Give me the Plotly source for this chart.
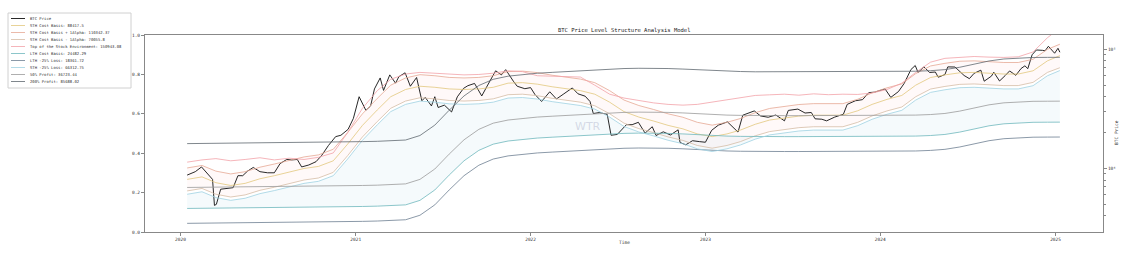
import plotly.graph_objects as go

# ---------------- data ----------------
price_dates = [
    "2020-01-15","2020-02-01","2020-02-14","2020-03-01","2020-03-08","2020-03-12","2020-03-16","2020-03-25","2020-04-05","2020-04-20",
    "2020-04-30","2020-05-10","2020-05-20","2020-06-01","2020-06-15","2020-07-01","2020-07-15","2020-07-27","2020-08-10","2020-08-20",
    "2020-09-01","2020-09-10","2020-09-25","2020-10-10","2020-10-22","2020-11-05","2020-11-20","2020-12-01","2020-12-16","2020-12-27",
    "2021-01-08","2021-01-22","2021-02-01","2021-02-09","2021-02-21","2021-02-28","2021-03-13","2021-03-25","2021-04-01","2021-04-14",
    "2021-04-25","2021-05-08","2021-05-19","2021-05-26","2021-06-08","2021-06-15","2021-06-22","2021-07-05","2021-07-20","2021-08-01",
    "2021-08-14","2021-08-23","2021-09-06","2021-09-21","2021-10-01","2021-10-20","2021-11-01","2021-11-10","2021-11-26","2021-12-04",
    "2021-12-20",
    "2022-01-01","2022-01-10","2022-01-24","2022-02-10","2022-02-24","2022-03-10","2022-03-29","2022-04-10","2022-04-25","2022-05-05",
    "2022-05-12","2022-05-25","2022-06-10","2022-06-18","2022-07-01","2022-07-20","2022-08-01","2022-08-14","2022-08-28","2022-09-12",
    "2022-09-20","2022-10-05","2022-10-20","2022-11-05","2022-11-09","2022-11-21","2022-12-05","2022-12-20",
    "2023-01-01","2023-01-14","2023-01-28","2023-02-16","2023-03-10","2023-03-20","2023-04-13","2023-04-26","2023-05-12","2023-05-28",
    "2023-06-15","2023-06-23","2023-07-13","2023-07-28","2023-08-10","2023-08-18","2023-09-01","2023-09-11","2023-09-28","2023-10-16",
    "2023-10-24","2023-11-10","2023-11-25","2023-12-08","2023-12-20",
    "2024-01-11","2024-01-23","2024-02-08","2024-02-20","2024-03-05","2024-03-14","2024-03-20","2024-04-01","2024-04-13","2024-04-25",
    "2024-05-01","2024-05-15","2024-05-21","2024-06-05","2024-06-24","2024-07-05","2024-07-15","2024-07-29","2024-08-05","2024-08-20",
    "2024-08-25","2024-09-06","2024-09-18","2024-09-27","2024-10-10","2024-10-21","2024-10-29","2024-11-04","2024-11-13","2024-11-22",
    "2024-12-05","2024-12-10","2024-12-17","2024-12-30","2025-01-06","2025-01-10",
]
btc_price = [
    8800, 9400, 10300, 8600, 8100, 4900, 5000, 6700, 6800, 6900,
    8700, 8700, 9500, 10200, 9400, 9200, 9200, 11000, 11900, 11800,
    11900, 10300, 10700, 11400, 12900, 15600, 18500, 19000, 21300, 26300,
    40000, 30800, 33500, 46500, 57500, 45200, 61000, 52000, 58900, 63500,
    49000, 58000, 37000, 39500, 33500, 40000, 32500, 34000, 29800, 39900,
    47000, 49500, 51700, 40600, 48100, 66000, 61000, 67500, 54000, 49000,
    46700,
    47700, 41800, 36500, 44000, 38300, 41900, 47400, 42300, 40400, 36500,
    28900, 29500, 28400, 19000, 19300, 23300, 23300, 24400, 19800, 22400,
    18900, 20300, 19100, 21100, 16500, 15800, 17100, 16800,
    16600, 20900, 23100, 24600, 20200, 28000, 30400, 27600, 26900, 28100,
    25100, 30700, 31500, 29200, 29500, 26100, 25900, 25100, 27000, 28500,
    34500, 37000, 37800, 43300, 43700,
    46500, 39500, 44200, 51800, 67600, 73100, 63800, 71300, 63900, 64500,
    58300, 61400, 71200, 71000, 60300, 56700, 62900, 66800, 54000, 59500,
    64200, 54200, 60300, 65800, 60500, 69000, 72700, 68800, 90000, 98700,
    98000, 97000, 106000, 92700, 102000, 94500,
]

band_dates = [f"{y}-{m:02d}-15" for y in range(2020, 2025) for m in range(1, 13)] + ["2025-01-10"]

sth_cost = [
    8100, 8500, 7600, 7200, 7500, 8200, 8700, 9300, 10000, 10400, 11600, 16000,
    23000, 31000, 40000, 46000, 49000, 48000, 46500, 46000, 46500, 48000, 52000, 52500,
    51000, 48500, 46500, 45000, 42000, 36000, 30000, 27000, 25000, 23000, 21500, 19500,
    18500, 19500, 21000, 23500, 25500, 26500, 27500, 28000, 28000, 28000, 30500, 34500,
    38000, 41000, 50000, 58000, 61000, 63500, 64000, 63000, 62000, 62000, 66000, 80000,
    88417.5]
sth_plus = [
    10100, 10600, 9500, 9000, 9400, 10250, 10900, 11600, 12500, 13000, 14500, 20000,
    28750, 38750, 50000, 57500, 61250, 60000, 58100, 57500, 58100, 60000, 65000, 65600,
    63750, 60600, 58100, 56250, 52500, 45000, 37500, 33750, 31250, 28750, 26900, 24400,
    23100, 24400, 26250, 29400, 31900, 33100, 34400, 35000, 35000, 35000, 38100, 43100,
    47500, 51250, 62500, 72500, 76250, 79400, 80000, 78750, 77500, 77500, 82500, 100000,
    110342.37]
sth_minus = [
    6480, 6800, 6080, 5760, 6000, 6560, 6960, 7440, 8000, 8320, 9280, 12800,
    18400, 24800, 32000, 36800, 39200, 38400, 37200, 36800, 37200, 38400, 41600, 42000,
    40800, 38800, 37200, 36000, 33600, 28800, 24000, 21600, 20000, 18400, 17200, 15600,
    14800, 15600, 16800, 18800, 20400, 21200, 22000, 22400, 22400, 22400, 24400, 27600,
    30400, 32800, 40000, 46400, 48800, 50800, 51200, 50400, 49600, 49600, 52800, 64000,
    70055.8]
top_stock = [
    11300, 11800, 12100, 11600, 11900, 12300, 11800, 12200, 11900, 12400, 13500, 20000,
    32000, 45000, 56000, 62000, 64000, 63000, 62000, 61000, 61500, 63000, 66000, 65000,
    60000, 59500, 59000, 58500, 50000, 42000, 39000, 37000, 35500, 34500, 34000, 34500,
    36000, 38000, 39500, 41000, 41500, 42000, 41200, 42300, 41600, 42000, 41800, 43000,
    46000, 52000, 64000, 78000, 84000, 86000, 87000, 86000, 85500, 86500, 95000, 125000,
    150943.08]
lth_cost = [
    4620, 4630, 4640, 4650, 4660, 4670, 4690, 4700, 4720, 4740, 4760, 4780,
    4800, 4830, 4860, 4950, 5400, 6600, 8800, 11600, 14200, 16000, 17000, 17600,
    18000, 18300, 18600, 18900, 19200, 19500, 19700, 19800, 19800, 19700, 19500, 19200,
    18900, 18700, 18600, 18500, 18500, 18500, 18500, 18500, 18500, 18500, 18500, 18500,
    18600, 18600, 18700, 18900, 19300, 20200, 21500, 22800, 23700, 24200, 24400, 24450,
    24482.29]
lth_loss25 = [
    3465, 3473, 3480, 3488, 3495, 3503, 3518, 3525, 3540, 3555, 3570, 3585,
    3600, 3623, 3645, 3713, 4050, 4950, 6600, 8700, 10650, 12000, 12750, 13200,
    13500, 13725, 13950, 14175, 14400, 14625, 14775, 14850, 14850, 14775, 14625, 14400,
    14175, 14025, 13950, 13875, 13875, 13875, 13875, 13875, 13875, 13875, 13875, 13875,
    13950, 13950, 14025, 14175, 14475, 15150, 16125, 17100, 17775, 18150, 18300, 18338,
    18361.72]
sth_loss25 = [
    6075, 6375, 5700, 5400, 5625, 6150, 6525, 6975, 7500, 7800, 8700, 12000,
    17250, 23250, 30000, 34500, 36750, 36000, 34875, 34500, 34875, 36000, 39000, 39375,
    38250, 36375, 34875, 33750, 31500, 27000, 22500, 20250, 18750, 17250, 16125, 14625,
    13875, 14625, 15750, 17625, 19125, 19875, 20625, 21000, 21000, 21000, 22875, 25875,
    28500, 30750, 37500, 43500, 45750, 47625, 48000, 47250, 46500, 46500, 49500, 60000,
    66312.75]
profit50 = [
    6930, 6945, 6960, 6975, 6990, 7005, 7035, 7050, 7080, 7110, 7140, 7170,
    7200, 7245, 7290, 7425, 8100, 9900, 13200, 17400, 21300, 24000, 25500, 26400,
    27000, 27450, 27900, 28350, 28800, 29250, 29550, 29700, 29700, 29550, 29250, 28800,
    28350, 28050, 27900, 27750, 27750, 27750, 27750, 27750, 27750, 27750, 27750, 27750,
    27900, 27900, 28050, 28350, 28950, 30300, 32250, 34200, 35550, 36300, 36600, 36675,
    36723.44]
profit200 = [
    16170, 16205, 16240, 16275, 16310, 16345, 16415, 16450, 16520, 16590, 16660, 16730,
    16800, 16905, 17010, 17325, 18900, 23100, 30800, 40600, 49700, 56000, 59500, 61600,
    63000, 64050, 65100, 66150, 67200, 68250, 68950, 69300, 69300, 68950, 68250, 67200,
    66150, 65450, 65100, 64750, 64750, 64750, 64750, 64750, 64750, 64750, 64750, 64750,
    65100, 65100, 65450, 66150, 67550, 70700, 75250, 79800, 82950, 84700, 85400, 85575,
    85688.02]

year_ticks = ["2020-01-01", "2021-01-01", "2022-01-01", "2023-01-01", "2024-01-01", "2025-01-01"]
year_labels = ["2020", "2021", "2022", "2023", "2024", "2025"]
price_ticks = [1e4, 1e5]
price_tick_labels = ["10⁴", "10⁵"]

# ---------------- figure ----------------
FONT = "DejaVu Sans Mono"
W, H = 1135, 261
ML, MR, MT, MB = 145, 32, 35, 29
PW, PH = W - ML - MR, H - MT - MB


def px_x(px):
    return (px - ML) / PW


def px_y(py):
    return (H - MB - py) / PH


fig = go.Figure()

# dummy for the left (0-1) axis
fig.add_trace(go.Scatter(x=[None], y=[None], xaxis="x", yaxis="y", showlegend=False, hoverinfo="skip"))

# light fills
fig.add_trace(go.Scatter(x=band_dates, y=sth_loss25, yaxis="y2", mode="lines", line=dict(width=0),
                         showlegend=False, hoverinfo="skip"))
fig.add_trace(go.Scatter(x=band_dates, y=lth_cost, yaxis="y2", mode="lines", line=dict(width=0),
                         fill="tonexty", fillcolor="rgba(173,216,230,0.12)", showlegend=False, hoverinfo="skip"))
fig.add_trace(go.Scatter(x=band_dates, y=sth_minus, yaxis="y2", mode="lines", line=dict(width=0),
                         showlegend=False, hoverinfo="skip"))
fig.add_trace(go.Scatter(x=band_dates, y=sth_plus, yaxis="y2", mode="lines", line=dict(width=0),
                         fill="tonexty", fillcolor="rgba(255,200,200,0.10)", showlegend=False, hoverinfo="skip"))

series = [
    (price_dates, btc_price, "BTC Price", "#111111", 0.9),
    (band_dates, sth_cost, f"STH Cost Basis: {sth_cost[-1]}", "#e2c87e", 0.8),
    (band_dates, sth_plus, f"STH Cost Basis + 1Alpha: {sth_plus[-1]}", "#e6a894", 0.8),
    (band_dates, sth_minus, f"STH Cost Basis - 1Alpha: {sth_minus[-1]}", "#d6bca6", 0.8),
    (band_dates, top_stock, f"Top of the Stock Environment: {top_stock[-1]}", "#f2a2a8", 0.8),
    (band_dates, lth_cost, f"LTH Cost Basis: {lth_cost[-1]}", "#6fb8bc", 0.8),
    (band_dates, lth_loss25, f"LTH -25% Loss: {lth_loss25[-1]}", "#6d7f92", 0.8),
    (band_dates, sth_loss25, f"STH -25% Loss: {sth_loss25[-1]}", "#9fd2e2", 0.8),
    (band_dates, profit50, f"50% Profit: {profit50[-1]}", "#9a9a9a", 0.8),
    (band_dates, profit200, f"200% Profit: {profit200[-1]}", "#5f6870", 0.8),
]
for xs, ys, name, color, w in series:
    fig.add_trace(go.Scatter(x=xs, y=ys, name=name, yaxis="y2", mode="lines",
                             line=dict(color=color, width=w), showlegend=False))

# compact legend drawn in the top-left corner (matplotlib style), left of the tick labels
shapes = [dict(type="rect", xref="paper", yref="paper",
               x0=px_x(8), x1=px_x(131), y0=px_y(88), y1=px_y(13),
               line=dict(color="#d0d0d0", width=1), fillcolor="white", layer="below")]
annotations = []
for i, (_, _, name, color, w) in enumerate(series):
    yy = 18.5 + 7.0 * i
    shapes.append(dict(type="line", xref="paper", yref="paper",
                       x0=px_x(11), x1=px_x(25), y0=px_y(yy), y1=px_y(yy),
                       line=dict(color=color, width=w), layer="above"))
    annotations.append(dict(text=name, xref="paper", yref="paper", x=px_x(28), y=px_y(yy),
                            xanchor="left", yanchor="middle", showarrow=False,
                            font=dict(family=FONT, size=3.9, color="#333333")))

axis_line = "#888888"
annotations += [
    dict(text="BTC Price Level Structure Analysis Model", xref="paper", yref="paper",
         x=0.5, y=1.025, xanchor="center", yanchor="middle", showarrow=False,
         font=dict(family=FONT, size=5.5, color="#222222")),
    dict(text="Time", xref="paper", yref="paper", x=0.5, y=-0.052,
         xanchor="center", yanchor="middle", showarrow=False, font=dict(size=4.5)),
    dict(text="BTC Price", xref="paper", yref="paper", x=1.0146, y=0.508, textangle=-90,
         xanchor="center", yanchor="middle", showarrow=False, font=dict(size=4.5)),
    dict(text="WTR", xref="paper", yref="paper", x=0.462, y=0.533,
         xanchor="center", yanchor="middle", showarrow=False,
         font=dict(family="DejaVu Sans", size=11, color="rgba(170,175,200,0.45)")),
]

fig.update_layout(
    width=W, height=H,
    margin=dict(l=ML, r=MR, t=MT, b=MB),
    paper_bgcolor="white", plot_bgcolor="white",
    font=dict(family=FONT, size=5, color="#333333"),
    showlegend=False,
    xaxis=dict(type="date", range=["2019-10-19", "2025-04-10"],
               tickvals=year_ticks, ticktext=year_labels,
               ticks="outside", ticklen=3, tickcolor=axis_line,
               showline=True, linecolor=axis_line, linewidth=1, mirror=True,
               showgrid=False, zeroline=False, tickfont=dict(size=4.5)),
    yaxis=dict(range=[0, 1], tickvals=[0, 0.2, 0.4, 0.6, 0.8, 1.0],
               ticktext=["0.0", "0.2", "0.4", "0.6", "0.8", "1.0"],
               ticks="outside", ticklen=3, tickcolor=axis_line,
               showline=True, linecolor=axis_line, linewidth=1,
               showgrid=False, zeroline=False, tickfont=dict(size=4.5)),
    yaxis2=dict(type="log", range=[3.467, 5.120], overlaying="y", side="right",
                tickvals=price_ticks, ticktext=price_tick_labels,
                ticks="outside", ticklen=3, tickcolor=axis_line,
                minor=dict(ticks="outside", ticklen=1.5, tickcolor=axis_line,
                           tickvals=[4e3, 5e3, 6e3, 7e3, 8e3, 9e3, 2e4, 3e4, 4e4, 5e4, 6e4, 7e4, 8e4, 9e4]),
                showline=True, linecolor=axis_line, linewidth=1,
                showgrid=False, zeroline=False, tickfont=dict(size=4.5)),
    shapes=shapes,
    annotations=annotations,
)

fig.write_html("out.html")
